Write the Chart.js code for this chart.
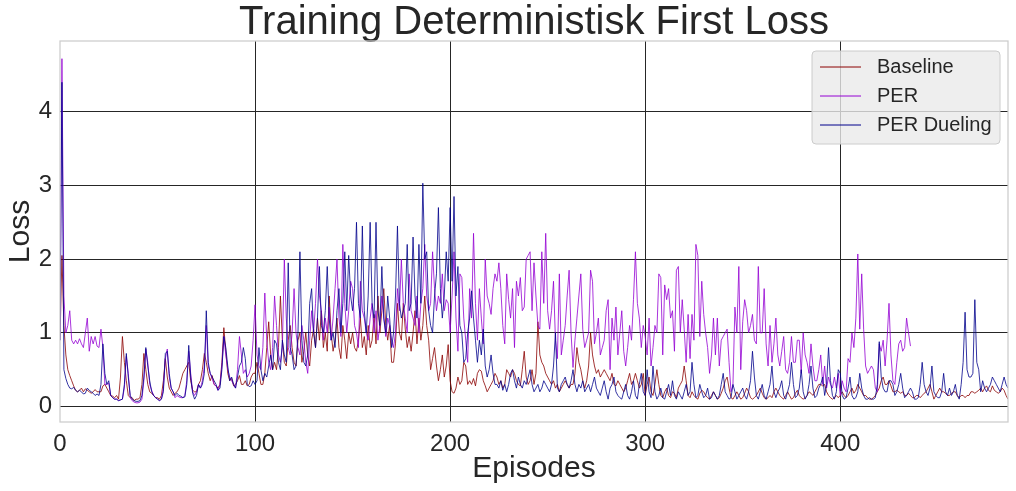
<!DOCTYPE html>
<html>
<head>
<meta charset="utf-8">
<title>Training Deterministisk First Loss</title>
<script src="https://cdn.jsdelivr.net/npm/chart.js@4.4.1/dist/chart.umd.min.js"></script>
<style>
  html, body { margin: 0; padding: 0; background: #fff; }
  #wrap { width: 1016px; height: 491px; }
</style>
</head>
<body>
<div id="wrap"><canvas id="chart"></canvas></div>
<script>
const seriesNames = ["Baseline", "PER", "PER Dueling"];
const seriesColors = ["#8b0000", "#9400d3", "#00008b"];
const xTicks = [0, 100, 200, 300, 400];
const yTicks = [0, 1, 2, 3, 4];

// loss per episode
const baselineLoss = [
  0.9,2.05,1.1,0.7,0.5,0.42,0.35,0.28,0.22,0.2,
  0.22,0.25,0.2,0.24,0.22,0.2,0.18,0.2,0.23,0.2,
  0.2,0.2,0.28,0.3,0.25,0.2,0.15,0.14,0.12,0.15,
  0.1,0.4,0.95,0.6,0.35,0.15,0.12,0.12,0.08,0.1,
  0.1,0.12,0.3,0.72,0.5,0.3,0.2,0.18,0.15,0.12,
  0.12,0.1,0.15,0.35,0.65,0.4,0.25,0.2,0.15,0.18,
  0.2,0.25,0.35,0.45,0.5,0.55,0.6,0.35,0.22,0.2,
  0.2,0.3,0.35,0.5,0.72,0.6,0.45,0.35,0.42,0.3,
  0.28,0.25,0.3,0.6,1.07,0.75,0.45,0.35,0.38,0.28,
  0.3,0.35,0.42,0.3,0.3,0.35,0.28,0.3,0.4,0.45,
  0.45,0.6,0.45,0.3,0.3,0.45,0.8,1.15,0.7,0.5,
  0.6,0.5,0.8,1.5,0.9,0.6,0.55,0.9,1.1,0.8,
  0.6,0.55,0.9,1.0,0.6,0.75,1.0,0.7,0.55,0.9,
  1.05,0.8,1.2,0.9,1.3,0.8,1.0,0.75,1.5,1.0,
  0.75,0.9,1.2,0.8,0.65,1.1,0.9,0.65,1.0,0.85,
  1.0,0.8,0.75,0.9,1.2,0.8,0.95,0.7,1.1,0.8,
  0.9,1.25,0.85,1.5,1.0,1.3,1.6,1.1,0.9,1.1,
  0.6,0.6,0.85,1.4,1.0,0.9,1.4,1.05,0.8,0.95,
  0.75,1.0,1.3,0.85,1.2,0.9,1.1,1.5,1.1,0.9,
  0.5,0.65,0.8,0.55,0.35,0.5,0.7,0.4,0.55,0.84,
  0.35,0.2,0.18,0.25,0.4,0.3,0.35,0.6,0.55,0.3,
  0.35,0.3,0.38,0.28,0.45,0.5,0.48,0.35,0.28,0.2,
  0.25,0.3,0.35,0.45,0.4,0.3,0.35,0.25,0.3,0.5,
  0.45,0.4,0.5,0.45,0.35,0.3,0.28,0.5,0.75,0.4,
  0.3,0.35,0.5,0.3,0.45,1.15,0.7,0.6,0.55,0.45,
  0.4,0.35,0.3,0.35,0.25,0.3,0.2,0.25,0.3,0.35,
  0.3,0.25,0.3,0.3,0.45,0.8,0.6,0.5,0.35,0.25,
  0.35,0.55,1.0,0.7,0.55,0.45,0.5,0.4,0.45,0.5,
  0.45,0.4,0.35,0.45,0.3,0.28,0.35,0.3,0.25,0.2,
  0.25,0.35,0.45,0.3,0.35,0.45,0.35,0.25,0.3,0.45,
  0.15,0.3,0.4,0.2,0.15,0.3,0.5,0.3,0.15,0.12,
  0.2,0.25,0.15,0.12,0.2,0.18,0.12,0.25,0.3,0.35,
  0.55,0.35,0.15,0.12,0.2,0.15,0.12,0.1,0.18,0.22,
  0.2,0.15,0.12,0.1,0.15,0.2,0.15,0.1,0.12,0.18,
  0.25,0.35,0.4,0.25,0.12,0.1,0.15,0.2,0.15,0.1,
  0.12,0.18,0.25,0.2,0.12,0.1,0.12,0.15,0.2,0.25,
  0.18,0.12,0.1,0.12,0.15,0.12,0.2,0.25,0.2,0.15,
  0.12,0.1,0.15,0.2,0.15,0.1,0.12,0.18,0.22,0.15,
  0.12,0.1,0.12,0.15,0.2,0.18,0.15,0.2,0.25,0.3,
  0.3,0.28,0.3,0.2,0.15,0.12,0.1,0.12,0.15,0.12,
  0.15,0.2,0.15,0.12,0.15,0.2,0.25,0.18,0.22,0.3,
  0.25,0.2,0.15,0.15,0.12,0.1,0.1,0.12,0.15,0.2,
  0.25,0.35,0.4,0.3,0.3,0.35,0.28,0.2,0.2,0.22,
  0.2,0.18,0.2,0.15,0.15,0.18,0.15,0.12,0.12,0.15,
  0.15,0.12,0.15,0.18,0.2,0.25,0.3,0.2,0.1,0.15,
  0.2,0.25,0.2,0.2,0.18,0.15,0.15,0.18,0.2,0.2,
  0.15,0.12,0.15,0.15,0.12,0.15,0.15,0.2,0.2,0.18,
  0.2,0.22,0.25,0.2,0.25,0.28,0.22,0.2,0.28,0.22,
  0.2,0.18,0.2,0.25,0.22,0.15,0.1
];

const perLoss = [
  0.9,4.72,1.5,1.0,1.1,1.3,0.9,0.85,0.9,0.85,
  0.92,0.85,0.8,1.0,1.2,0.75,0.95,0.85,0.95,0.82,
  0.8,1.05,0.8,0.3,0.3,0.32,0.15,0.12,0.1,0.1,
  0.08,0.09,0.1,0.25,0.68,0.45,0.12,0.08,0.06,0.05,
  0.05,0.06,0.1,0.35,0.78,0.6,0.3,0.22,0.15,0.12,
  0.1,0.08,0.1,0.25,0.65,0.78,0.4,0.25,0.2,0.12,
  0.15,0.13,0.12,0.12,0.15,0.35,0.75,0.45,0.2,0.15,
  0.2,0.3,0.25,0.35,0.55,1.1,0.55,0.45,0.38,0.3,
  0.28,0.22,0.3,0.55,0.95,0.7,0.5,0.4,0.35,0.3,
  0.25,0.5,0.95,0.7,0.45,0.5,0.4,0.45,0.55,0.9,
  1.38,0.7,0.55,0.5,0.8,1.54,0.9,0.6,0.5,0.8,
  1.5,1.1,0.7,0.6,0.8,2.0,1.2,0.8,0.7,1.0,
  1.6,1.0,0.8,0.7,1.1,0.9,0.6,0.45,0.9,1.3,
  1.0,1.4,2.0,1.5,1.3,0.9,1.2,1.0,1.35,0.9,
  1.2,1.6,2.0,1.2,0.95,2.2,1.4,1.0,1.3,1.7,
  1.6,1.1,1.0,0.8,1.7,1.3,1.2,1.0,0.9,1.2,
  1.4,1.0,1.3,0.9,1.1,1.5,1.2,0.95,1.2,1.1,
  0.9,0.8,1.0,1.6,1.3,2.0,1.4,1.2,1.0,1.8,
  1.3,1.2,1.1,1.5,1.0,1.4,1.6,2.2,1.5,1.3,
  1.4,2.1,1.6,1.3,1.5,1.4,1.8,1.3,1.45,1.4,
  1.0,1.5,2.1,1.2,0.75,1.8,1.75,1.2,0.9,0.6,
  1.6,1.2,2.35,1.4,0.9,1.6,1.2,0.85,2.0,1.5,
  1.4,1.25,1.6,1.8,1.7,1.95,1.6,1.1,0.85,1.8,
  1.45,1.2,1.6,0.8,1.7,1.5,1.75,1.3,1.35,2.0,
  2.05,2.1,1.3,1.95,1.5,1.1,1.05,2.1,1.4,2.35,
  1.3,1.05,1.3,1.7,0.9,0.65,1.8,0.7,0.9,1.1,
  1.5,1.85,1.0,0.53,0.9,1.2,1.5,1.8,1.05,0.8,
  0.9,1.0,1.85,1.7,0.85,1.0,1.2,0.7,0.8,0.9,
  1.3,1.45,0.5,1.2,0.9,1.35,0.7,1.0,1.3,0.75,
  0.55,0.8,1.1,0.9,1.45,2.1,1.4,1.2,0.8,1.1,
  0.95,0.7,1.2,0.55,0.8,1.1,1.0,1.8,1.75,0.7,
  1.65,1.45,1.6,1.2,1.3,0.75,1.85,1.9,1.0,1.45,
  1.05,0.6,1.25,0.65,1.25,0.9,2.2,2.05,0.95,1.7,
  1.25,1.0,0.8,0.45,0.7,1.2,0.7,1.2,0.55,0.9,
  0.95,1.0,1.05,0.6,0.2,0.3,1.35,1.0,1.9,0.5,
  1.15,1.45,1.3,1.0,1.1,1.25,0.9,0.85,1.9,1.0,
  1.0,1.6,0.85,0.55,1.1,0.6,0.85,1.2,0.7,0.55,
  0.75,0.95,0.5,0.45,0.6,0.95,0.6,0.6,0.9,0.9,
  0.45,1.0,0.7,0.6,0.45,0.85,0.55,0.35,0.35,0.5,
  0.7,0.3,0.55,0.25,0.4,0.3,0.25,0.4,0.25,0.45,
  0.15,0.35,0.25,0.2,0.65,0.6,1.0,0.8,1.2,2.07,
  1.05,1.8,1.05,0.55,0.45,0.5,0.55,0.5,0.25,0.2,
  0.85,0.75,0.9,0.55,0.9,1.4,0.7,0.35,0.3,0.6,
  0.85,0.9,0.75,0.8,1.2,1.0,0.82
];

const perDuelingLoss = [
  0.9,4.4,0.5,0.38,0.3,0.25,0.24,0.26,0.22,0.2,
  0.22,0.2,0.17,0.18,0.25,0.22,0.2,0.18,0.15,0.17,
  0.15,0.3,0.85,0.45,0.3,0.35,0.15,0.12,0.1,0.1,
  0.08,0.09,0.1,0.3,0.72,0.4,0.15,0.1,0.08,0.07,
  0.07,0.08,0.15,0.4,0.8,0.55,0.35,0.2,0.15,0.12,
  0.1,0.08,0.1,0.2,0.72,0.75,0.45,0.25,0.2,0.15,
  0.18,0.15,0.14,0.12,0.13,0.3,0.83,0.4,0.18,0.1,
  0.15,0.3,0.25,0.3,0.45,1.3,0.6,0.45,0.4,0.35,
  0.3,0.22,0.25,0.5,0.95,0.8,0.55,0.35,0.4,0.3,
  0.25,0.4,0.55,0.6,0.8,0.65,0.3,0.27,0.28,0.35,
  0.3,0.35,0.8,0.5,0.35,0.45,0.4,0.55,0.7,0.5,
  0.9,0.85,0.6,0.5,0.9,0.7,0.6,1.95,0.8,0.7,
  0.5,0.55,1.0,2.1,0.9,0.6,0.55,0.7,1.4,1.6,
  1.0,0.8,1.2,1.9,1.1,1.0,1.3,1.9,1.2,0.9,
  1.0,0.8,1.3,1.6,1.0,1.4,2.1,1.3,2.05,1.5,
  1.3,1.6,2.5,1.4,1.2,2.45,1.3,1.0,1.5,2.5,
  1.4,1.2,2.5,1.3,1.1,1.9,1.2,1.0,1.5,1.2,
  0.8,1.0,1.5,2.45,1.4,1.2,1.3,1.4,2.2,1.3,
  1.4,2.3,1.5,1.2,2.2,1.4,3.03,2.0,2.1,1.3,
  1.1,1.0,1.5,1.8,2.7,1.6,1.2,1.5,2.1,1.7,
  2.7,1.7,2.85,1.5,1.9,1.1,1.0,0.6,0.65,1.0,
  1.2,1.57,1.2,0.9,0.6,0.9,0.7,1.05,0.55,0.4,
  0.5,0.7,0.45,0.3,0.3,0.25,0.35,0.22,0.3,0.2,
  0.3,0.45,0.5,0.35,0.25,0.4,0.3,0.25,0.35,0.3,
  0.4,0.5,0.3,0.2,0.25,0.3,0.2,0.25,0.35,0.3,
  0.25,0.2,0.3,0.55,1.0,0.25,0.2,0.3,0.35,0.4,
  0.3,0.25,0.35,0.5,0.3,0.2,0.3,0.25,0.35,0.2,
  0.25,0.3,0.2,0.3,0.4,0.25,0.2,0.15,0.25,0.35,
  0.2,0.1,0.25,0.3,0.4,0.2,0.15,0.12,0.1,0.2,
  0.3,0.15,0.1,0.2,0.35,0.15,0.1,0.3,0.45,0.2,
  0.15,0.5,0.2,0.12,0.55,0.2,0.1,0.15,0.25,0.12,
  0.1,0.2,0.3,0.15,0.35,0.15,0.1,0.2,0.15,0.1,
  0.2,0.3,0.15,0.2,0.6,0.3,0.12,0.15,0.3,0.2,
  0.12,0.15,0.25,0.1,0.12,0.2,0.15,0.1,0.15,0.3,
  0.45,0.2,0.15,0.1,0.12,0.3,0.2,0.1,0.15,0.2,
  0.25,0.15,0.1,0.2,0.35,0.75,0.4,0.15,0.1,0.2,
  0.3,0.15,0.1,0.2,0.3,0.55,0.2,0.12,0.2,0.25,
  0.35,0.15,0.1,0.2,0.3,0.6,0.3,0.12,0.15,0.25,
  0.5,0.2,0.1,0.15,0.3,0.55,0.25,0.12,0.15,0.25,
  0.3,0.4,0.15,0.3,0.8,0.35,0.15,0.1,0.2,0.5,
  0.45,0.15,0.1,0.12,0.25,0.4,0.15,0.1,0.12,0.2,
  0.45,0.25,0.15,0.1,0.1,0.12,0.1,0.1,0.12,0.3,
  0.88,0.4,0.25,0.2,0.2,0.35,0.35,0.3,0.15,0.2,
  0.3,0.45,0.25,0.12,0.15,0.2,0.25,0.2,0.1,0.1,
  0.12,0.3,0.6,0.3,0.2,0.15,0.25,0.55,0.2,0.15,
  0.12,0.12,0.2,0.45,0.2,0.15,0.25,0.15,0.2,0.3,
  0.15,0.1,0.3,0.6,1.28,0.5,0.4,0.4,0.45,1.45,
  0.6,0.5,0.2,0.35,0.25,0.2,0.25,0.3,0.4,0.35,
  0.3,0.25,0.2,0.3,0.4,0.3,0.25
];

const lossSeries = [baselineLoss, perLoss, perDuelingLoss];
const textColor = "#262626";
const fontFamily = "'Liberation Sans', Arial, sans-serif";

// axes frame in light grey, like the matplotlib spines
const framePlugin = {
  id: "frame",
  afterDatasetsDraw(chart) {
    const a = chart.chartArea;
    const c = chart.ctx;
    c.save();
    c.strokeStyle = "#cccccc";
    c.lineWidth = 1.25;
    c.strokeRect(a.left, a.top, a.right - a.left, a.bottom - a.top);
    c.restore();
  }
};

// legend box in the upper right corner
const legendBoxPlugin = {
  id: "legendBox",
  afterDraw(chart) {
    const c = chart.ctx;
    const a = chart.chartArea;
    const boxW = 188, boxH = 93;
    const x0 = a.right - 8 - boxW, y0 = a.top + 10;
    c.save();
    c.beginPath();
    c.roundRect(x0, y0, boxW, boxH, 4);
    c.fillStyle = "rgba(234,234,234,0.8)";
    c.fill();
    c.strokeStyle = "#cccccc";
    c.lineWidth = 1;
    c.stroke();
    c.font = "20px " + fontFamily;
    c.textBaseline = "middle";
    c.fillStyle = textColor;
    chart.data.datasets.forEach((ds, i) => {
      const y = y0 + 16 + i * 29;
      c.beginPath();
      c.moveTo(x0 + 8, y);
      c.lineTo(x0 + 49, y);
      c.strokeStyle = ds.borderColor;
      c.lineWidth = 1;
      c.stroke();
      c.fillText(ds.label, x0 + 65, y);
    });
    c.restore();
  }
};

new Chart(document.getElementById("chart"), {
  type: "line",
  data: {
    datasets: seriesNames.map((name, i) => ({
      label: name,
      data: lossSeries[i].map((v, ep) => ({ x: ep, y: v })),
      borderColor: seriesColors[i],
      borderWidth: 0.8,
      pointRadius: 0,
      tension: 0,
      fill: false,
      order: 3 - i
    }))
  },
  options: {
    responsive: true,
    maintainAspectRatio: false,
    animation: false,
    layout: { padding: { left: 0, right: 8, top: 0, bottom: 0 } },
    plugins: {
      legend: { display: false },
      tooltip: { enabled: false },
      title: {
        display: true,
        text: "Training Deterministisk First Loss",
        color: textColor,
        fullSize: false,
        font: { family: fontFamily, size: 40, weight: "normal", lineHeight: 0.9 },
        padding: { top: 5, bottom: 0 }
      }
    },
    scales: {
      x: {
        type: "linear",
        min: 0,
        max: 486,
        afterBuildTicks: s => { s.ticks = xTicks.map(v => ({ value: v })); },
        afterFit: s => { s.height = 69; },
        grid: {
          color: ctx => (ctx.tick && ctx.tick.value === 0) ? "rgba(0,0,0,0)" : "#262626",
          lineWidth: 1,
          drawTicks: false
        },
        border: { display: false },
        ticks: {
          color: textColor,
          padding: 8,
          maxRotation: 0,
          font: { family: fontFamily, size: 24 }
        },
        title: {
          display: true,
          text: "Episodes",
          color: textColor,
          font: { family: fontFamily, size: 30 },
          padding: { top: 0, bottom: 4 }
        }
      },
      y: {
        min: -0.21,
        max: 4.96,
        afterBuildTicks: s => { s.ticks = yTicks.map(v => ({ value: v })); },
        afterFit: s => { s.width = 60; },
        grid: { color: "#262626", lineWidth: 1, drawTicks: false },
        border: { display: false },
        ticks: {
          color: textColor,
          padding: 8,
          font: { family: fontFamily, size: 24 }
        },
        title: {
          display: true,
          text: "Loss",
          color: textColor,
          font: { family: fontFamily, size: 30 },
          padding: { top: 3, bottom: 0 }
        }
      }
    }
  },
  plugins: [framePlugin, legendBoxPlugin]
});
</script>
</body>
</html>
